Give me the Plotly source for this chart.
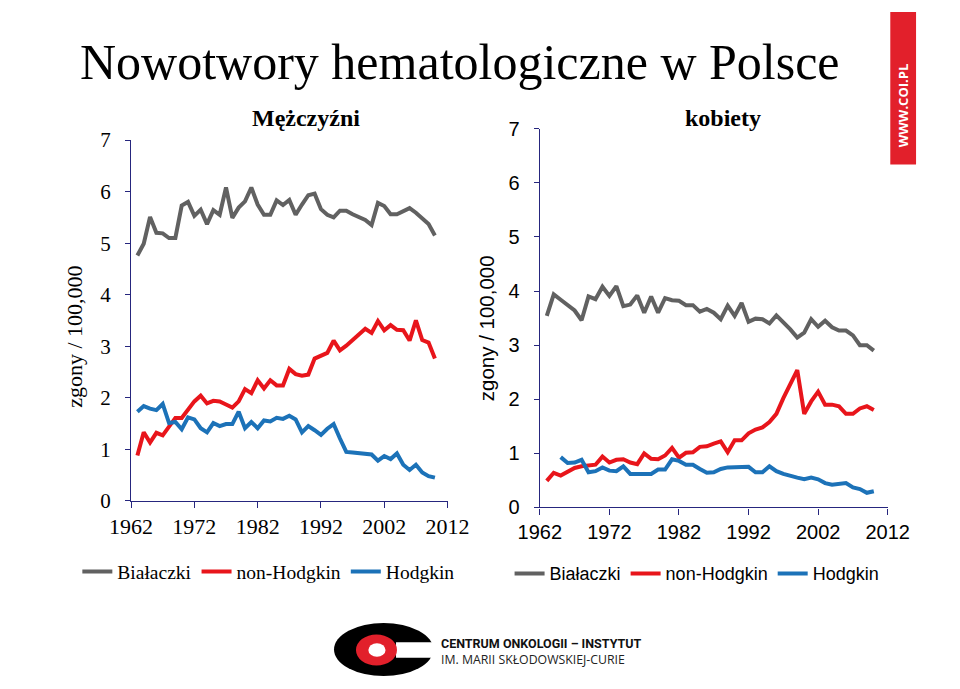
import plotly.graph_objects as go

# ---------------- data ----------------
years_m = list(range(1963, 2011))
men_bialaczki = [4.76, 4.99, 5.51, 5.20, 5.19, 5.10, 5.10, 5.73, 5.80, 5.53,
                 5.65, 5.37, 5.64, 5.55, 6.08, 5.49, 5.69, 5.81, 6.08, 5.75,
                 5.55, 5.55, 5.83, 5.74, 5.84, 5.55, 5.75, 5.93, 5.96, 5.66,
                 5.55, 5.50, 5.63, 5.63, 5.56, 5.51, 5.45, 5.35, 5.78, 5.72,
                 5.56, 5.56, 5.61, 5.68, 5.59, 5.49, 5.37, 5.15]
men_nonhodgkin = [0.88, 1.33, 1.13, 1.32, 1.27, 1.43, 1.61, 1.61, 1.76, 1.93,
                  2.04, 1.89, 1.94, 1.93, 1.87, 1.81, 1.93, 2.17, 2.09, 2.34,
                  2.18, 2.34, 2.24, 2.24, 2.56, 2.46, 2.43, 2.45, 2.76, 2.81,
                  2.87, 3.11, 2.92, 3.01, 3.12, 3.23, 3.34, 3.26, 3.49, 3.31,
                  3.41, 3.32, 3.31, 3.11, 3.50, 3.12, 3.07, 2.76]
men_hodgkin = [1.73, 1.84, 1.79, 1.76, 1.88, 1.51, 1.53, 1.39, 1.62, 1.58,
               1.41, 1.33, 1.51, 1.45, 1.49, 1.49, 1.73, 1.41, 1.53, 1.41,
               1.56, 1.54, 1.61, 1.59, 1.65, 1.58, 1.33, 1.45, 1.37, 1.28,
               1.40, 1.49, 1.21, 0.95, 0.94, 0.93, 0.91, 0.90, 0.78, 0.87,
               0.81, 0.92, 0.70, 0.60, 0.70, 0.55, 0.48, 0.45]

years_k = list(range(1963, 2011))
women_bialaczki = [3.54, 3.94, 3.84, 3.74, 3.64, 3.46, 3.90, 3.85, 4.08, 3.91,
                   4.09, 3.72, 3.75, 3.92, 3.60, 3.90, 3.60, 3.87, 3.83, 3.82,
                   3.74, 3.74, 3.62, 3.67, 3.60, 3.48, 3.73, 3.54, 3.78, 3.43,
                   3.49, 3.48, 3.40, 3.55, 3.43, 3.29, 3.14, 3.23, 3.48, 3.34,
                   3.45, 3.33, 3.27, 3.27, 3.18, 3.00, 3.00, 2.90]
women_nonhodgkin = [0.49, 0.64, 0.59, 0.67, 0.73, 0.76, 0.77, 0.79, 0.94, 0.83,
                    0.88, 0.89, 0.83, 0.80, 1.00, 0.90, 0.89, 0.96, 1.10, 0.92,
                    1.01, 1.02, 1.12, 1.13, 1.18, 1.22, 1.02, 1.24, 1.24, 1.37,
                    1.44, 1.48, 1.58, 1.73, 2.02, 2.29, 2.54, 1.73, 1.96, 2.14,
                    1.90, 1.90, 1.87, 1.73, 1.73, 1.83, 1.87, 1.80]
years_k_hodgkin = list(range(1965, 2011))
women_hodgkin = [0.93, 0.82, 0.83, 0.88, 0.65, 0.67, 0.74, 0.68, 0.67, 0.76,
                 0.62, 0.62, 0.62, 0.62, 0.70, 0.70, 0.89, 0.86, 0.79, 0.79,
                 0.71, 0.64, 0.65, 0.71, 0.74, 0.74, 0.74, 0.75, 0.65, 0.65,
                 0.76, 0.67, 0.62, 0.58, 0.55, 0.52, 0.55, 0.52, 0.45, 0.42,
                 0.43, 0.45, 0.37, 0.34, 0.27, 0.30]

series_names = ["Białaczki", "non-Hodgkin", "Hodgkin"]
x_ticks = [1962, 1972, 1982, 1992, 2002, 2012]
y_ticks = [0, 1, 2, 3, 4, 5, 6, 7]

# ---------------- style ----------------
W, H = 960, 689
GRAY, RED, BLUE = "#616161", "#E8151B", "#1C72B8"
NAVY = "#26267E"
SERIF = "Liberation Serif, DejaVu Serif, serif"
SANS = "Liberation Sans, Arial, sans-serif"


def px(x):
    return x / W


def py(y):
    return 1 - y / H


fig = go.Figure()

colors = [GRAY, RED, BLUE]
left_data = [(years_m, men_bialaczki), (years_m, men_nonhodgkin), (years_m, men_hodgkin)]
right_data = [(years_k, women_bialaczki), (years_k, women_nonhodgkin), (years_k_hodgkin, women_hodgkin)]

for (xs, ys), name, c in zip(left_data, series_names, colors):
    fig.add_trace(go.Scatter(x=xs, y=ys, mode="lines", name=name,
                             line=dict(color=c, width=4), xaxis="x", yaxis="y",
                             legend="legend"))
for (xs, ys), name, c in zip(right_data, series_names, colors):
    fig.add_trace(go.Scatter(x=xs, y=ys, mode="lines", name=name,
                             line=dict(color=c, width=4), xaxis="x2", yaxis="y2",
                             legend="legend2"))

axis_common = dict(showgrid=False, zeroline=False, showline=True, linecolor=NAVY,
                   linewidth=1.3, ticks="outside", tickcolor=NAVY, tickwidth=1.3)

fig.update_layout(
    width=W, height=H, autosize=False,
    margin=dict(l=0, r=0, t=0, b=0),
    paper_bgcolor="white", plot_bgcolor="white",
    xaxis=dict(domain=[px(114.3), px(446)], range=[1962, 2012], tickvals=x_ticks,
               ticklen=6, anchor="y", tickfont=dict(family=SERIF, size=22, color="black"),
               **axis_common),
    yaxis=dict(domain=[py(506.5), py(132.7)], range=[0, 7], tickvals=y_ticks,
               ticklen=5, anchor="x", tickfont=dict(family=SERIF, size=21, color="black"),
               ticklabelstandoff=10, **axis_common),
    xaxis2=dict(domain=[px(542.7), px(907.3)], range=[1962, 2012], tickvals=x_ticks,
                ticklen=6, anchor="y2", tickfont=dict(family=SANS, size=20, color="black"),
                **axis_common),
    yaxis2=dict(domain=[py(513.3), py(121)], range=[0, 7], tickvals=y_ticks,
                ticklen=5, anchor="x2", tickfont=dict(family=SANS, size=20, color="black"),
                ticklabelstandoff=10, **axis_common),
    legend=dict(orientation="h", x=px(58), y=py(580), xanchor="left", yanchor="middle",
                font=dict(family=SERIF, size=19.5, color="black"), bgcolor="rgba(0,0,0,0)",
                itemwidth=30, tracegroupgap=0),
    legend2=dict(orientation="h", x=px(511), y=py(582), xanchor="left", yanchor="middle",
                 font=dict(family=SANS, size=18, color="black"), bgcolor="rgba(0,0,0,0)",
                 itemwidth=30, tracegroupgap=0),
    showlegend=True,
)

annotations = [
    dict(text="Nowotwory hematologiczne w Polsce", x=px(459), y=py(52),
         font=dict(family=SERIF, size=50, color="black")),
    dict(text="<b>Mężczyźni</b>", x=px(298), y=py(110),
         font=dict(family=SERIF, size=24, color="black")),
    dict(text="<b>kobiety</b>", x=px(735), y=py(110),
         font=dict(family=SERIF, size=24, color="black")),
    dict(text="zgony / 100,000", x=px(55), y=py(336), textangle=-90,
         font=dict(family=SERIF, size=22, color="black")),
    dict(text="zgony / 100,000", x=px(487), y=py(328), textangle=-90,
         font=dict(family=SANS, size=20.5, color="black")),
    dict(text="<b>WWW.COI.PL</b>", x=px(923), y=py(97), textangle=-90,
         font=dict(family="Open Sans, Liberation Sans, sans-serif", size=13, color="white")),
    dict(text="<b>CENTRUM ONKOLOGII – INSTYTUT</b>", x=px(437), y=py(654), xanchor="left",
         font=dict(family="Liberation Sans Narrow, Roboto, sans-serif", size=12.5, color="#111111")),
    dict(text="IM. MARII SKŁODOWSKIEJ-CURIE", x=px(437), y=py(671), xanchor="left",
         font=dict(family="Open Sans, Liberation Sans, sans-serif", size=12.3, color="#222222")),
]
for a in annotations:
    a.setdefault("xanchor", "center")
    a.update(xref="paper", yref="paper", yanchor="middle", showarrow=False)
fig.update_layout(annotations=annotations)

shapes = [
    # red strip
    dict(type="rect", x0=px(910), x1=px(937), y0=py(158), y1=py(0),
         fillcolor="#E2202B", line=dict(width=0)),
    # logo
    dict(type="circle", x0=px(327), x1=px(431), y0=py(688), y1=py(633),
         fillcolor="black", line=dict(width=0)),
    dict(type="rect", x0=px(392), x1=px(433), y0=py(669), y1=py(653),
         fillcolor="white", line=dict(width=0)),
    dict(type="circle", x0=px(350), x1=px(393), y0=py(677), y1=py(645),
         fillcolor="#E2202B", line=dict(width=0)),
    dict(type="circle", x0=px(363), x1=px(381), y0=py(668), y1=py(654),
         fillcolor="white", line=dict(width=0)),
]
for s in shapes:
    s.update(xref="paper", yref="paper", layer="above")
fig.update_layout(shapes=shapes)

# remove the default page margin so the 960x689 figure fills the window exactly
post = """
document.body.style.margin = '0';
document.body.style.padding = '0';
document.body.style.overflow = 'hidden';
document.documentElement.style.overflow = 'hidden';
"""

fig.write_html("out.html", post_script=post, config={"displayModeBar": False})
